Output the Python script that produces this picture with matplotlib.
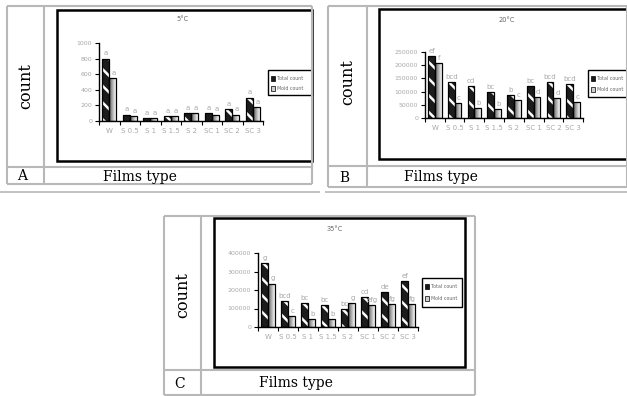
import matplotlib
matplotlib.use('Agg')
import matplotlib.pyplot as plt
import numpy as np
from matplotlib.colors import LinearSegmentedColormap
from matplotlib.patches import Rectangle

W_PX, H_PX = 627, 396

films = ['W', 'S 0.5', 'S 1', 'S 1.5', 'S 2', 'SC 1', 'SC 2', 'SC 3']

# 5°C
total_5 = [800, 80, 40, 60, 100, 100, 150, 300]
mold_5 = [550, 60, 40, 60, 100, 80, 80, 180]
tlet_5 = ['a', 'a', 'a', 'a', 'a', 'a', 'a', 'a']
mlet_5 = ['a', 'a', 'a', 'a', 'a', 'a', 'a', 'a']

# 20°C
total_20 = [235000, 135000, 120000, 100000, 88000, 120000, 138000, 130000]
mold_20 = [210000, 58000, 38000, 35000, 68000, 80000, 75000, 62000]
tlet_20 = ['ef', 'bcd', 'cd', 'bc', 'b', 'bc', 'bcd', 'bcd']
mlet_20 = ['f', 'c', 'b', 'b', 'c', 'd', 'd', 'c']

# 35°C
total_35 = [345000, 140000, 130000, 118000, 97000, 160000, 190000, 250000]
mold_35 = [235000, 60000, 42000, 42000, 128000, 118000, 125000, 125000]
tlet_35 = ['g', 'bcd', 'bc', 'bc', 'bc', 'cd', 'de', 'ef']
mlet_35 = ['g', 'c', 'b', 'b', 'g', 'efg', 'fg', 'fg']

plt.rcParams['hatch.linewidth'] = 1.8
grad_cmap = LinearSegmentedColormap.from_list('g', ['#5a5a5a', '#ffffff'])
grid_col = '#b8b8b8'
txt_col = '#a8a8a8'

fig = plt.figure(figsize=(W_PX / 100, H_PX / 100), dpi=100)
bg = fig.add_axes([0, 0, 1, 1])
bg.set_xlim(0, W_PX)
bg.set_ylim(H_PX, 0)
bg.axis('off')


def rect(x0, y0, x1, y1):
    return [x0 / W_PX, 1 - y1 / H_PX, (x1 - x0) / W_PX, (y1 - y0) / H_PX]


def hline(x0, x1, y, c=grid_col, lw=1.5):
    bg.plot([x0, x1], [y, y], color=c, lw=lw, solid_capstyle='butt')


def vline(x, y0, y1, c=grid_col, lw=1.5):
    bg.plot([x, x], [y0, y1], color=c, lw=lw, solid_capstyle='butt')


def table(x0, x1, xs, ytop, ysep, ybot, letter, ylabel_y):
    hline(x0, x1, ytop)
    hline(x0, x1, ysep)
    hline(x0, x1, ybot)
    vline(x0, ytop, ybot)
    vline(xs, ytop, ybot)
    vline(x1, ytop, ybot)
    bg.text((x0 + xs) / 2, ylabel_y, 'count', rotation=90, ha='center', va='center',
            family='DejaVu Serif', fontsize=11.5)
    bg.text((x0 + xs) / 2 - 3, (ysep + ybot) / 2 + 1, letter, ha='center', va='center',
            family='DejaVu Serif', fontsize=10)


def chart_box(x0, y0, x1, y1):
    bg.add_patch(Rectangle((x0, y0), x1 - x0, y1 - y0, fill=False, ec='black', lw=1.8))


def legend(x0, y0, x1, y1):
    bg.add_patch(Rectangle((x0, y0), x1 - x0, y1 - y0, fill=False, ec='black', lw=1.0, clip_on=False))
    h = (y1 - y0)
    bg.add_patch(Rectangle((x0 + 3, y0 + h * 0.22), 4, 5, fc='#1a1a1a', ec='black', lw=0.5))
    bg.add_patch(Rectangle((x0 + 3, y0 + h * 0.62), 4, 5, fc='#cfcfcf', ec='black', lw=0.5))
    bg.text(x0 + 9, y0 + h * 0.22 + 2.5, 'Total count', fontsize=3.4, va='center', color='#666666')
    bg.text(x0 + 9, y0 + h * 0.62 + 2.5, 'Mold count', fontsize=3.4, va='center', color='#666666')


def bars(pos, title, title_xy, total, mold, tlet, mlet, ymax, step):
    ax = fig.add_axes(rect(*pos))
    x = np.arange(len(films))
    w = 0.34
    ax.bar(x - w / 2, total, w, color='#1c1c1c', edgecolor='white', hatch='\\\\', linewidth=0, zorder=2)
    ax.bar(x - w / 2, total, w, fill=False, edgecolor='black', linewidth=0.9, zorder=3)
    mb = ax.bar(x + w / 2, mold, w, color='none', edgecolor='black', linewidth=0.9, zorder=3)
    grad = np.linspace(0, 1, 64).reshape(1, -1)
    for p in mb.patches:
        im = ax.imshow(grad, cmap=grad_cmap, aspect='auto', zorder=2,
                       extent=[p.get_x(), p.get_x() + p.get_width(), 0, p.get_height()])
        im.set_clip_path(p)
    off = ymax * 0.03
    for i in range(len(films)):
        ax.text(x[i] - w / 2, total[i] + off, tlet[i], ha='center', va='bottom', fontsize=5, color=txt_col)
        ax.text(x[i] + w / 2 + 0.05, mold[i] + off, mlet[i], ha='center', va='bottom', fontsize=5, color=txt_col)
    ax.set_xlim(-0.5, len(films) - 0.5)
    ax.set_ylim(0, ymax)
    ax.set_yticks(np.arange(0, ymax + 1, step))
    ax.set_xticks(x)
    ax.set_xticklabels(films)
    ax.set_xticks(np.arange(-0.5, len(films)), minor=True)
    ax.tick_params(axis='x', which='major', length=0, pad=5, labelsize=5, labelcolor=txt_col)
    ax.tick_params(axis='x', which='minor', length=3, width=0.8)
    ax.tick_params(axis='y', length=3, width=0.8, pad=2, labelsize=4.5, labelcolor=txt_col)
    for s in ['top', 'right']:
        ax.spines[s].set_visible(False)
    for s in ['left', 'bottom']:
        ax.spines[s].set_linewidth(1.0)
    ax.patch.set_alpha(0)
    bg.text(title_xy[0], title_xy[1], title, ha='center', va='center', fontsize=4.8,
            color='#666666')
    return ax


# panel A
table(7, 312, 44, 6, 167, 184, 'A', 86)
hline(0, 320, 192, lw=1.2)
chart_box(57, 10, 312, 161)
bars((99, 43, 263, 121), '5°C', (183, 19), total_5, mold_5, tlet_5, mlet_5, 1000, 200)
legend(268, 70, 312, 95)
bg.text(140, 177, 'Films type', ha='center', va='center', family='DejaVu Serif', fontsize=10)

# panel B
table(328, 627, 367, 6, 166, 187, 'B', 82)
hline(325, 627, 192, lw=1.2)
chart_box(379, 9, 628, 159)
bars((425, 52, 583, 118), '20°C', (507, 20), total_20, mold_20, tlet_20, mlet_20, 250000, 50000)
legend(588, 70, 628, 97)
bg.text(441, 177, 'Films type', ha='center', va='center', family='DejaVu Serif', fontsize=10)

# panel C
table(164, 475, 201, 216, 370, 395, 'C', 295)
chart_box(214, 218, 465, 367)
bars((258, 253, 418, 327), '35°C', (335, 229), total_35, mold_35, tlet_35, mlet_35, 400000, 100000)
legend(422, 278, 462, 307)
bg.text(296, 383, 'Films type', ha='center', va='center', family='DejaVu Serif', fontsize=10)

plt.savefig('out.png', dpi=100)
